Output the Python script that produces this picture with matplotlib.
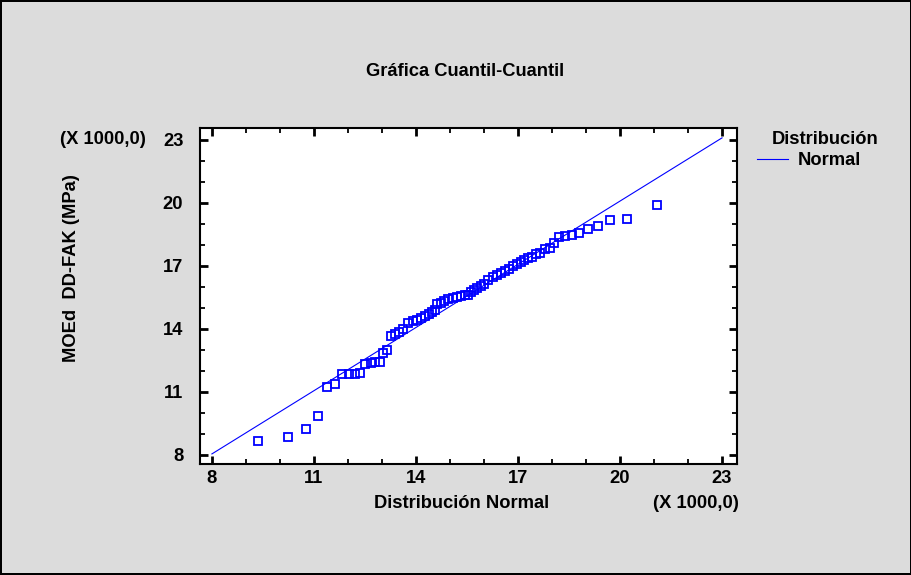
import matplotlib
matplotlib.use("Agg")
import matplotlib.pyplot as plt
from matplotlib.ticker import MultipleLocator

plt.rcParams['font.family'] = ['Liberation Sans', 'DejaVu Sans']

# Data (thousands of MPa)
theoretical = [9.36, 10.24, 10.76, 11.12, 11.37, 11.63, 11.84, 12.03, 12.20, 12.36, 12.50, 12.68,
               12.81, 12.94, 13.03, 13.14,
               13.26, 13.38, 13.50, 13.62, 13.77, 13.90, 14.02, 14.14, 14.26, 14.39, 14.46, 14.55,
               14.63, 14.73, 14.83, 14.95, 15.08, 15.20, 15.31, 15.44, 15.52, 15.61, 15.71, 15.80,
               15.90, 16.00, 16.13, 16.26, 16.37, 16.49, 16.62, 16.74, 16.86, 16.98, 17.08, 17.18,
               17.30, 17.40, 17.53, 17.65, 17.79, 17.94, 18.06, 18.21, 18.38, 18.58, 18.78, 19.07,
               19.36, 19.71, 20.21, 21.09]
observed = [8.67, 8.86, 9.25, 9.87, 11.24, 11.37, 11.86, 11.86, 11.86, 11.92, 12.32, 12.40,
            12.44, 12.44, 12.85, 12.98,
            13.68, 13.74, 13.85, 13.98, 14.28, 14.38, 14.44, 14.50, 14.60, 14.72, 14.82, 14.92,
            15.18, 15.25, 15.34, 15.42, 15.48, 15.53, 15.56, 15.60, 15.64, 15.76, 15.84, 15.93,
            16.04, 16.12, 16.35, 16.47, 16.58, 16.66, 16.76, 16.87, 16.98, 17.08, 17.19, 17.30,
            17.40, 17.44, 17.55, 17.60, 17.80, 17.87, 18.08, 18.36, 18.42, 18.49, 18.56, 18.75,
            18.90, 19.17, 19.24, 19.90]
line_x = [8.0, 23.0]
line_y = [8.05, 23.1]
ticks = [8, 11, 14, 17, 20, 23]

FS = 13.2

fig = plt.figure(figsize=(9.12, 5.75), dpi=100)
fig.patch.set_facecolor('#DCDCDC')
fig.patch.set_edgecolor('black')
fig.patch.set_linewidth(1.5)

ax = fig.add_axes([200/912, 1-464/575, 537/912, 336/575])
ax.set_facecolor('white')

ax.plot(line_x, line_y, color='#0000FF', lw=0.8, label='Normal')
ax.plot(theoretical, observed, linestyle='none', marker='s', markersize=5.4,
        markerfacecolor='none', markeredgecolor='#0000FF', markeredgewidth=1.3)

ax.set_xlim(7.65, 23.44)
ax.set_ylim(7.57, 23.57)
ax.set_xticks(ticks)
ax.set_yticks(ticks)
ax.xaxis.set_minor_locator(MultipleLocator(1))
ax.yaxis.set_minor_locator(MultipleLocator(1))
ax.tick_params(which='both', direction='in', top=True, right=True, color='black')
ax.tick_params(which='major', length=6, width=2, labelsize=FS)
ax.tick_params(axis='x', which='major', pad=4)
ax.tick_params(axis='y', which='major', pad=12)
ax.tick_params(which='minor', length=3.5, width=1.3)
for lab in ax.get_xticklabels() + ax.get_yticklabels():
    lab.set_fontweight('bold')
for s in ax.spines.values():
    s.set_linewidth(1.5)

fig.text(465/912, 1-72/575, 'Gráfica Cuantil-Cuantil', ha='center', va='center',
         fontsize=FS, fontweight='bold')
fig.text(462/912, 1-504/575, 'Distribución Normal', ha='center', va='center',
         fontsize=FS, fontweight='bold')
fig.text(696/912, 1-504/575, '(X 1000,0)', ha='center', va='center',
         fontsize=FS, fontweight='bold')
fig.text(103/912, 1-140/575, '(X 1000,0)', ha='center', va='center',
         fontsize=FS, fontweight='bold')
fig.text(72/912, 1-268/575, 'MOEd  DD-FAK (MPa)', ha='center', va='center',
         rotation=90, fontsize=FS, fontweight='bold')

# Legend
fig.text(825/912, 1-139/575, 'Distribución', ha='center', va='center',
         fontsize=FS, fontweight='bold')
fig.text(798/912, 1-160.5/575, 'Normal', ha='left', va='center',
         fontsize=FS, fontweight='bold')
fig.add_artist(plt.Line2D([757/912, 788/912], [1-159.3/575, 1-159.3/575],
                          color='#0000FF', lw=0.8, transform=fig.transFigure))

fig.savefig('out.png', dpi=100, facecolor=fig.get_facecolor(), edgecolor=fig.get_edgecolor())
